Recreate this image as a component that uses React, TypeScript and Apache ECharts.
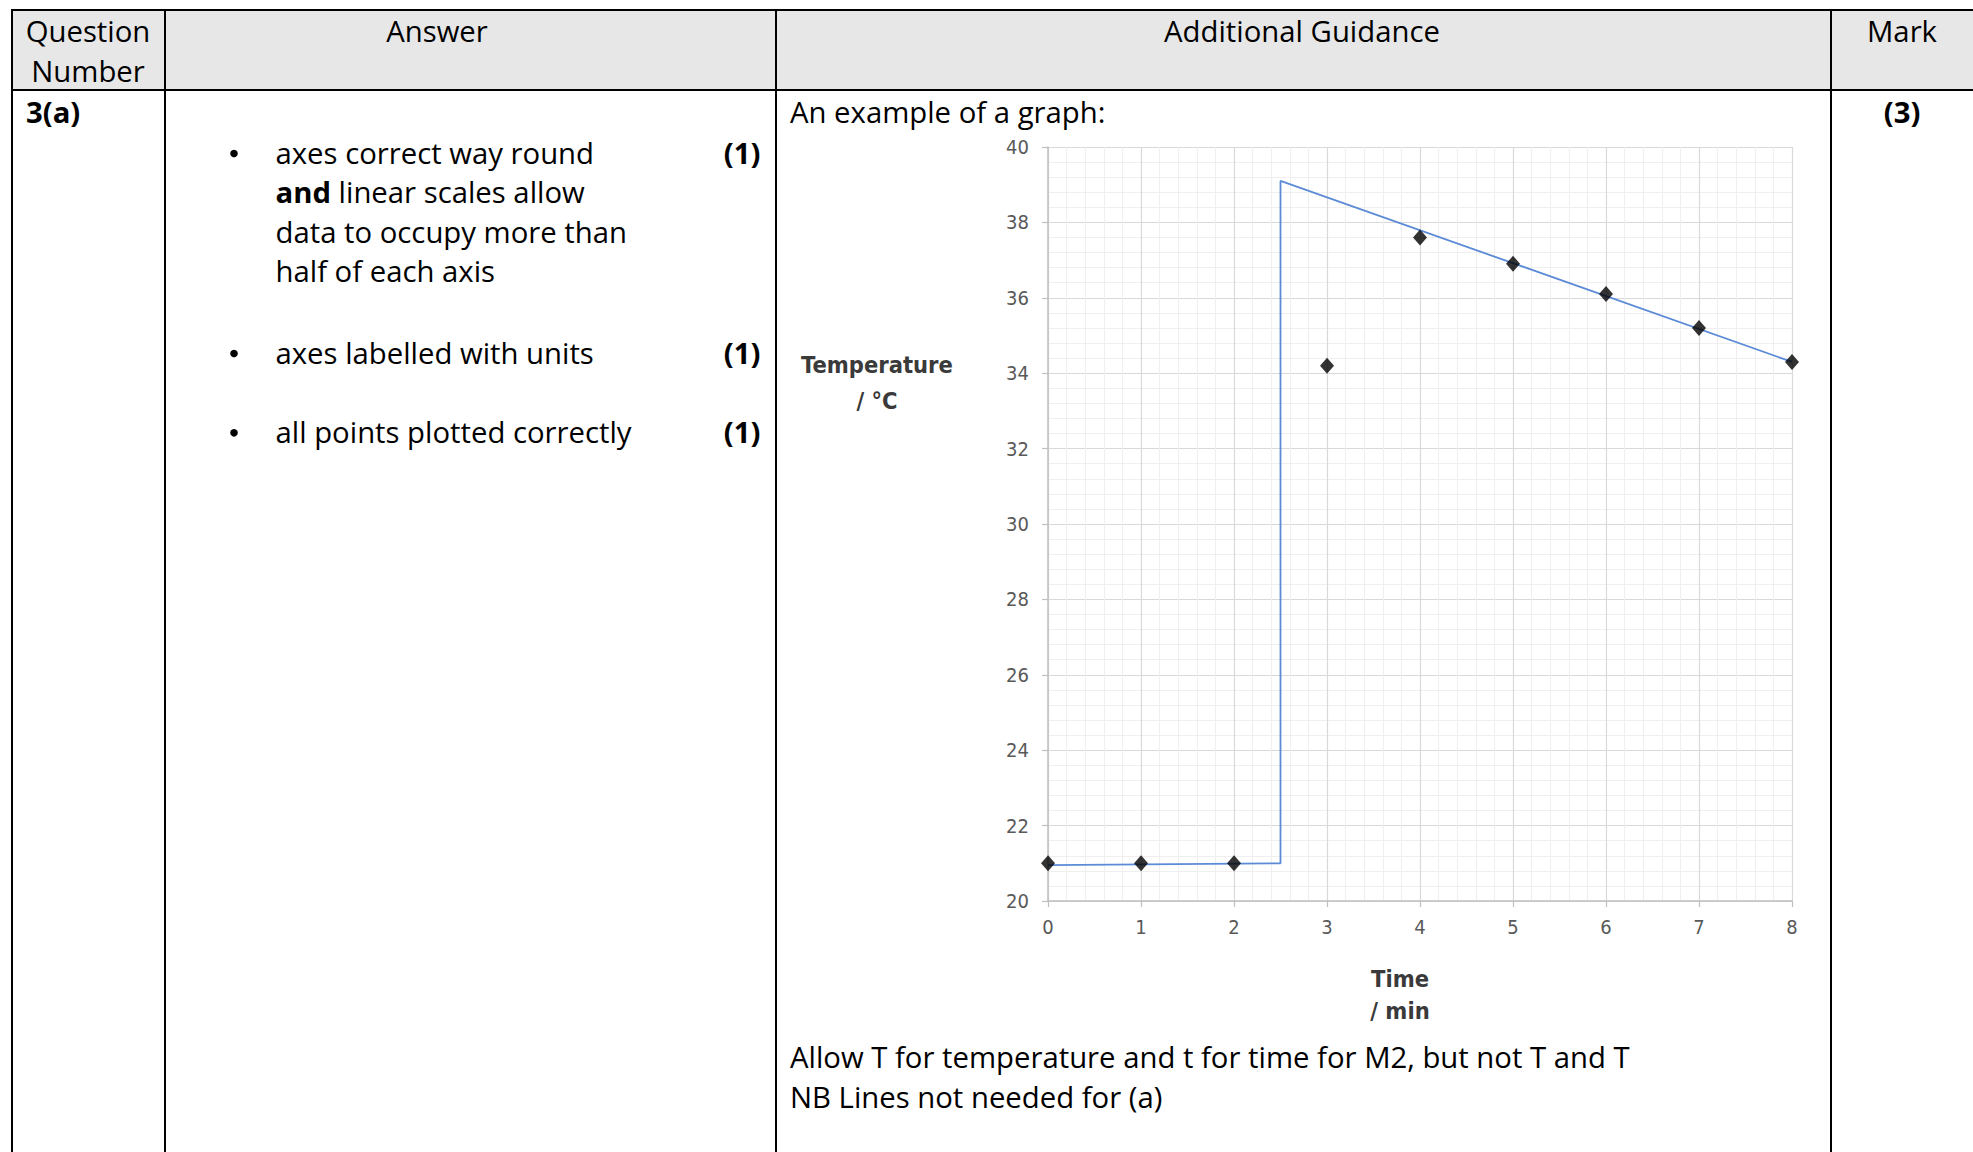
import React, { useEffect, useRef } from "react";
import * as echarts from "echarts";

// ---- data ----
const timeMin = [0, 1, 2, 3, 4, 5, 6, 7, 8];
const temperatureC = [21.0, 21.0, 21.0, 34.2, 37.6, 36.9, 36.1, 35.2, 34.3];
const lineTimeMin = [0, 2.5, 2.5, 8];
const lineTemperatureC = [20.95, 21.0, 39.1, 34.3];
const xAxisRange = [0, 8, 1];
const yAxisRange = [20, 40, 2];

// ---- texts ----
const headerQuestion = ["Question", "Number"];
const headerAnswer = "Answer";
const headerGuidance = "Additional Guidance";
const headerMark = "Mark";
const questionNumber = "3(a)";
const bullet1 = ["axes correct way round", "{b|and} linear scales allow", "data to occupy more than", "half of each axis"];
const bullet2 = "axes labelled with units";
const bullet3 = "all points plotted correctly";
const markEach = "(1)";
const markTotal = "(3)";
const guidanceIntro = "An example of a graph:";
const yTitle = ["Temperature", "/ °C"];
const xTitle = ["Time", "/ min"];
const guidanceNotes = [
  "Allow T for temperature and t for time for M2, but not T and T",
  "NB Lines not needed for (a)",
];

const FONT = "'Open Sans', 'Noto Sans', 'DejaVu Sans', sans-serif";
const TICK_FONT = "'DejaVu Sans Condensed', 'Liberation Sans Narrow', 'DejaVu Sans', sans-serif";
const FS = 29.3;

function txt(x: number, y: number, text: string, o: any = {}) {
  const align = o.align || "left";
  return {
    type: "text",
    x,
    y,
    z: 20,
    style: {
      text,
      fontSize: o.fontSize || FS,
      fontFamily: o.fontFamily || FONT,
      fontWeight: o.fontWeight || "normal",
      fill: o.fill || "#000",
      align,
      textAlign: align,
      verticalAlign: "middle",
      textVerticalAlign: "middle",
      rich: o.rich,
    },
  };
}

function hline(x1: number, x2: number, y: number) {
  return { type: "line", z: 20, shape: { x1, y1: y, x2, y2: y }, style: { stroke: "#000", lineWidth: 2 } };
}
function vline(x: number, y1: number, y2: number) {
  return { type: "line", z: 20, shape: { x1: x, y1, x2: x, y2 }, style: { stroke: "#000", lineWidth: 2 } };
}

export default function App() {
  const ref = useRef<HTMLDivElement>(null);
  useEffect(() => {
    if (!ref.current) return;
    const chart = echarts.init(ref.current, undefined, { renderer: "svg" });

    const W = 1973;
    const H = 1152;
    const colX = [12, 165, 776, 1831];
    const top = 10;
    const headBottom = 90;
    const lineY0 = 152.5;
    const lineStep = 39.5;
    const richBold = { b: { fontWeight: "bold", fontSize: FS, fontFamily: FONT, fill: "#000" } };
    const titleStyle = { align: "center", fontWeight: "bold", fontSize: 23.5, fontFamily: TICK_FONT, fill: "#3a3a3a" };

    const graphic: any[] = [
      { type: "rect", z: 1, shape: { x: colX[0], y: top, width: W - colX[0], height: headBottom - top }, style: { fill: "#e7e7e7" } },
      hline(colX[0] - 1, W, top),
      hline(colX[0] - 1, W, headBottom),
      ...colX.map((x) => vline(x, top - 1, H)),
      txt(88, 30.5, headerQuestion[0], { align: "center" }),
      txt(88, 71, headerQuestion[1], { align: "center" }),
      txt(437, 30.5, headerAnswer, { align: "center" }),
      txt(1302, 30.5, headerGuidance, { align: "center" }),
      txt(1902, 30.5, headerMark, { align: "center" }),
      txt(26, 112, questionNumber, { fontWeight: "bold" }),
      txt(1902, 112, markTotal, { align: "center", fontWeight: "bold" }),
      txt(790, 112, guidanceIntro),
      // bullets
      { type: "circle", z: 20, shape: { cx: 234, cy: lineY0 + 1, r: 3.8 }, style: { fill: "#000" } },
      { type: "circle", z: 20, shape: { cx: 234, cy: 352.5 + 1, r: 3.8 }, style: { fill: "#000" } },
      { type: "circle", z: 20, shape: { cx: 234, cy: 431.8 + 1, r: 3.8 }, style: { fill: "#000" } },
      ...bullet1.map((t, i) => txt(275.5, lineY0 + i * lineStep, t, { rich: richBold })),
      txt(275.5, 352.5, bullet2),
      txt(275.5, 431.8, bullet3),
      txt(742, lineY0, markEach, { align: "center", fontWeight: "bold" }),
      txt(742, 352.5, markEach, { align: "center", fontWeight: "bold" }),
      txt(742, 431.8, markEach, { align: "center", fontWeight: "bold" }),
      // axis titles
      txt(877, 365, yTitle[0], titleStyle),
      txt(877, 401, yTitle[1], titleStyle),
      txt(1400, 979, xTitle[0], titleStyle),
      txt(1400, 1011, xTitle[1], titleStyle),
      txt(790, 1057, guidanceNotes[0]),
      txt(790, 1097, guidanceNotes[1]),
    ];

    const axisCommon = {
      type: "value",
      axisLine: { show: true, onZero: false, lineStyle: { color: "#bfbfbf", width: 1.5 } },
      axisTick: { show: true, length: 6, lineStyle: { color: "#bfbfbf", width: 1.2 } },
      axisLabel: { color: "#595959", fontSize: 20, fontFamily: TICK_FONT },
      splitLine: { show: true, lineStyle: { color: "#d9d9d9", width: 1.2 } },
      minorTick: { show: false, splitNumber: 5 },
      minorSplitLine: { show: true, lineStyle: { color: "#efefef", width: 1 } },
    };

    chart.setOption({
      animation: false,
      backgroundColor: "#ffffff",
      grid: { left: 1048, top: 147, width: 744, height: 754, containLabel: false },
      xAxis: {
        ...axisCommon,
        min: xAxisRange[0],
        max: xAxisRange[1],
        interval: xAxisRange[2],
        axisLabel: { ...axisCommon.axisLabel, margin: 16 },
      },
      yAxis: {
        ...axisCommon,
        min: yAxisRange[0],
        max: yAxisRange[1],
        interval: yAxisRange[2],
        axisLabel: { ...axisCommon.axisLabel, margin: 19 },
      },
      series: [
        {
          type: "line",
          data: lineTimeMin.map((t, i) => [t, lineTemperatureC[i]]),
          symbol: "none",
          showSymbol: false,
          lineStyle: { color: "#5b8bd6", width: 1.8 },
          z: 2,
        },
        {
          type: "scatter",
          data: timeMin.map((t, i) => [t, temperatureC[i]]),
          symbol: "diamond",
          symbolSize: [14, 16],
          itemStyle: { color: "#000000" },
          clip: false,
          z: 3,
        },
      ],
      graphic,
    });
    return () => chart.dispose();
  }, []);

  return (
    <div
      ref={ref}
      style={{ position: "fixed", left: 0, top: 0, width: 1973, height: 1152, background: "#fff" }}
    />
  );
}
